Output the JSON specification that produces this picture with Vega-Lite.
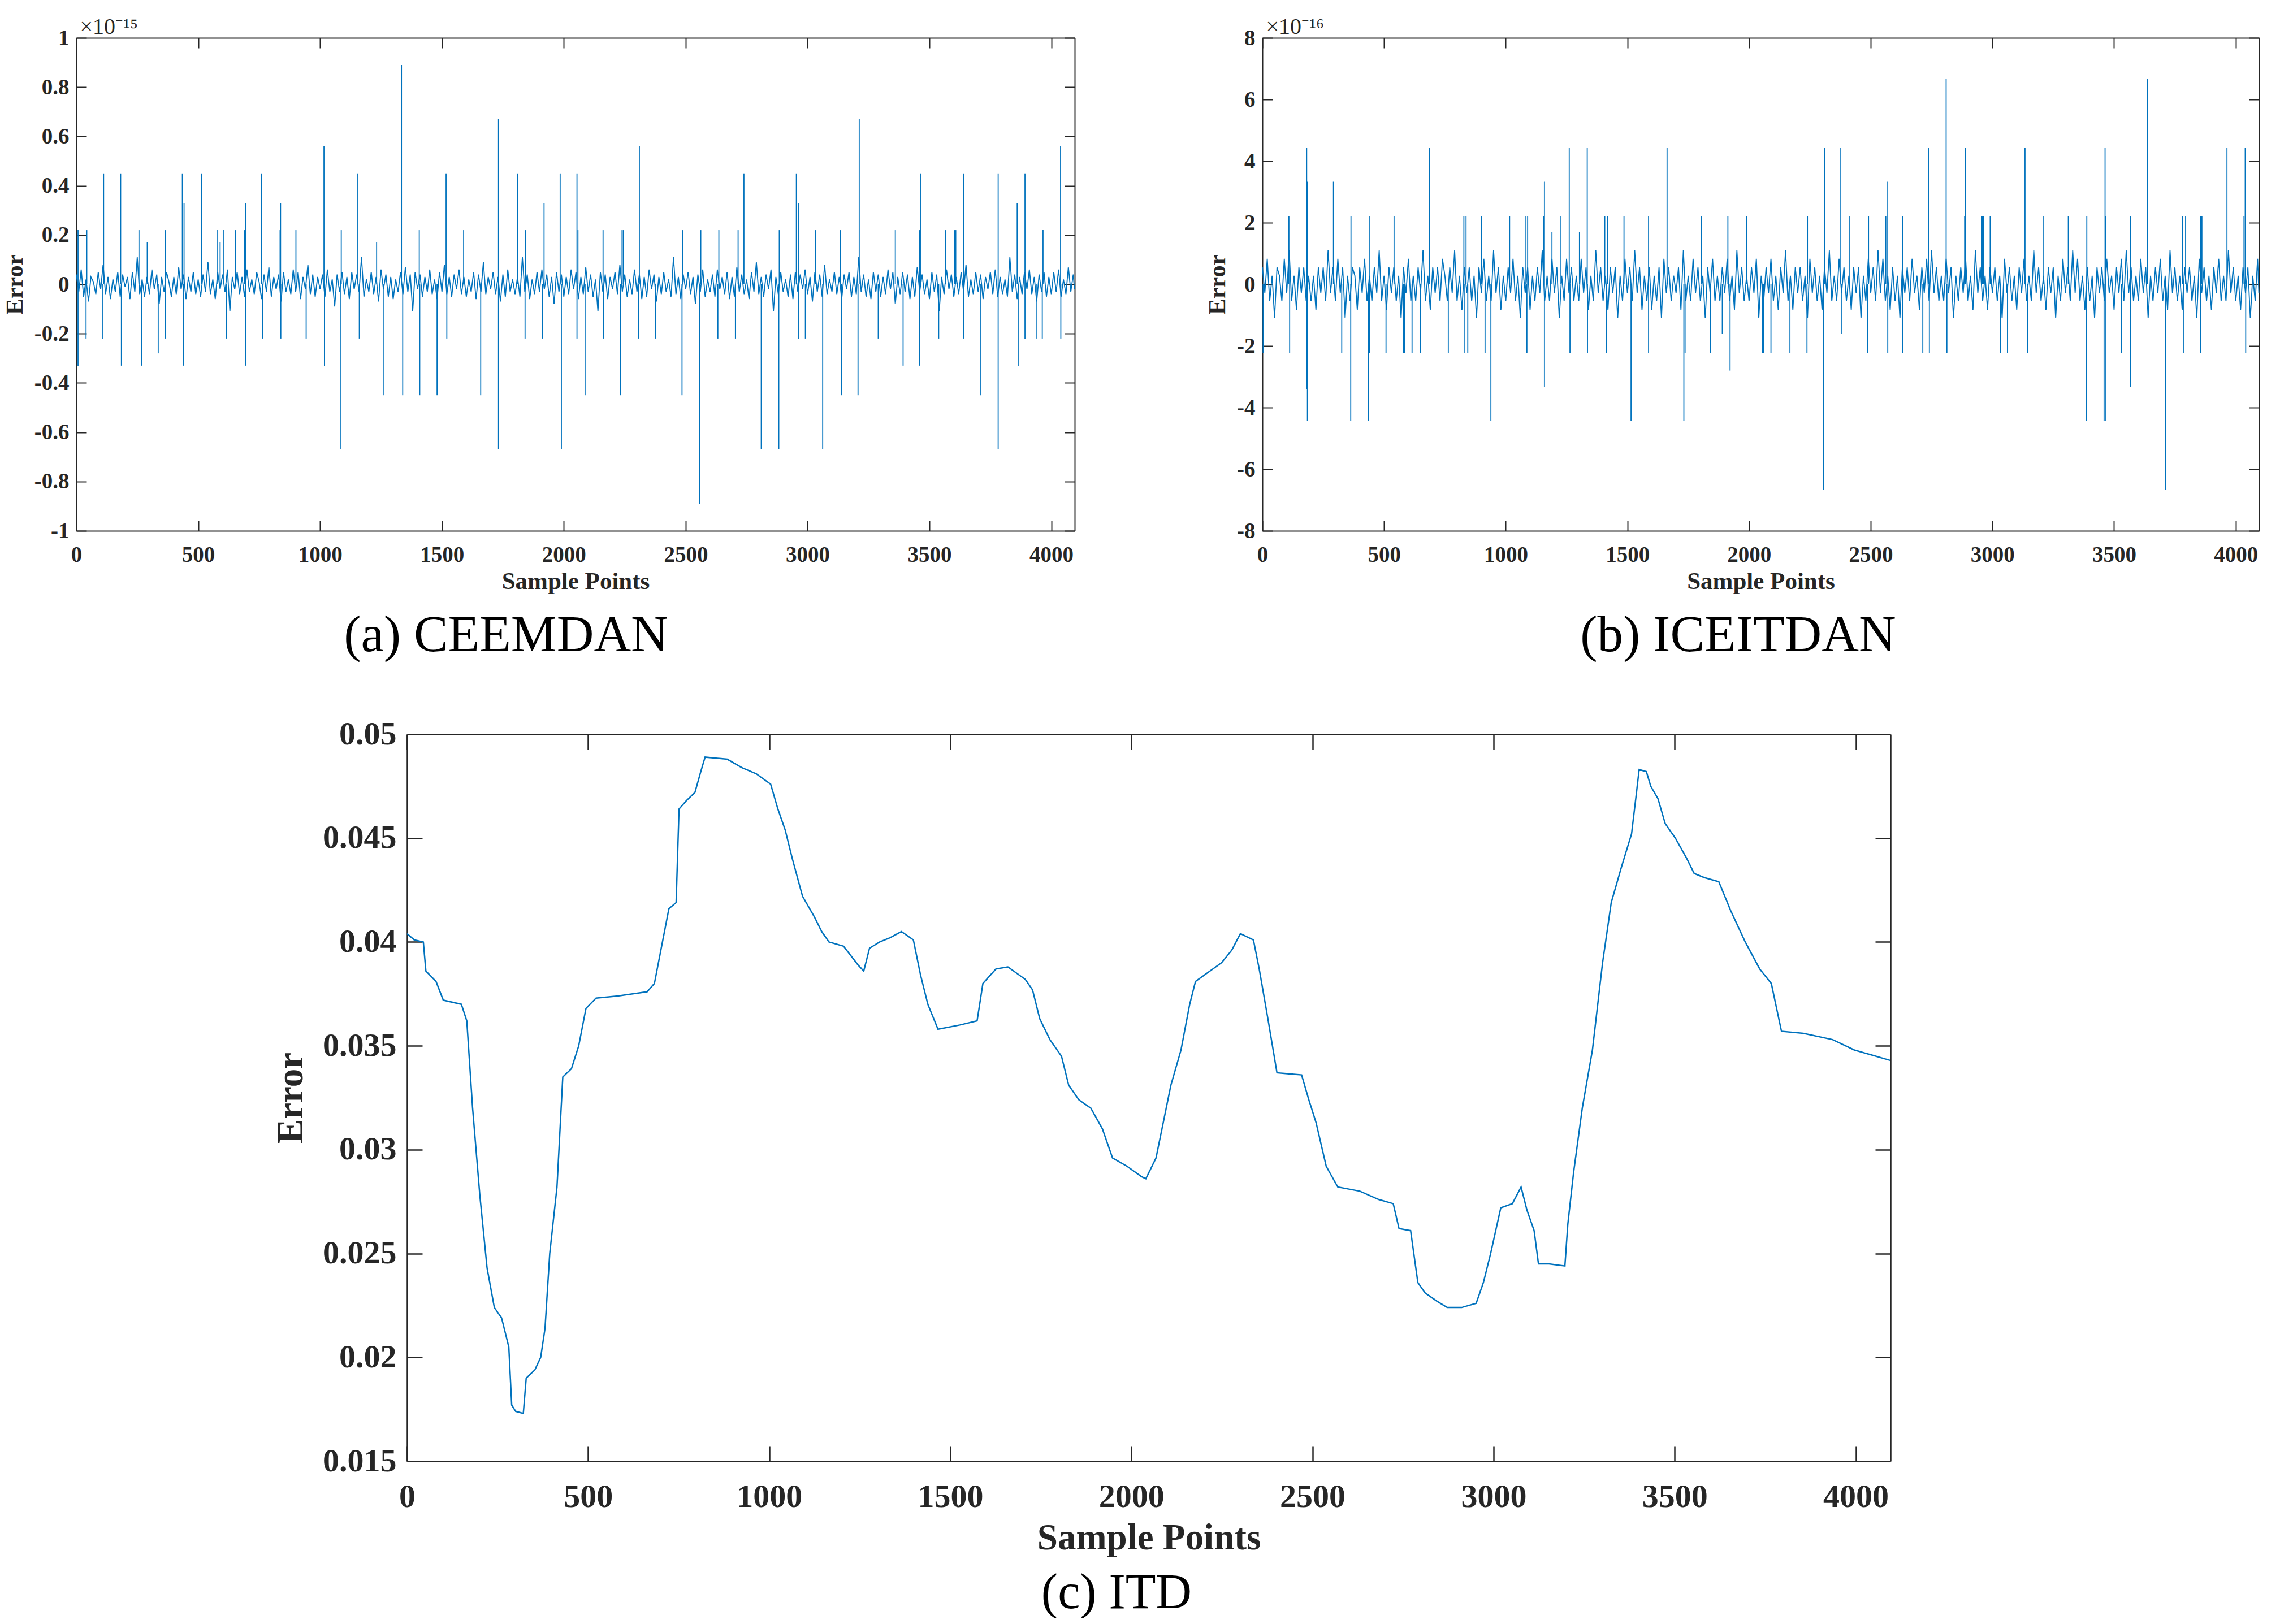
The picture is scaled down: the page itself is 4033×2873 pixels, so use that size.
{
"$schema": "https://vega.github.io/schema/vega-lite/v6.json",
"padding": {"left": 5, "top": 27, "right": 0, "bottom": 0},
"background": "white",
"config": {
  "view": {"stroke": null},
  "font": "Liberation Serif",
  "axis": {"grid": false, "domainColor": "#262626", "tickColor": "#262626", "labelColor": "#262626", "titleColor": "#262626", "labelFont": "Liberation Serif", "titleFont": "Liberation Serif", "labelFontWeight": "bold", "titleFontWeight": "bold", "labelFlush": false, "labelOverlap": false},
  "title": {"font": "Liberation Serif", "fontWeight": "normal", "color": "#000000"}
},
"datasets": {
  "a_noise": [
{"s":0,"e":0.04},{"s":10,"e":-0.03},{"s":20,"e":0.06},{"s":30,"e":-0.05},{"s":40,"e":0.02},{"s":50,"e":-0.07},{"s":60,"e":0.03},{"s":70,"e":0.01},{"s":80,"e":-0.04},{"s":90,"e":0.05},
{"s":100,"e":-0.02},{"s":110,"e":0.08},{"s":120,"e":-0.04},{"s":130,"e":0.03},{"s":140,"e":-0.06},{"s":150,"e":0.02},{"s":160,"e":-0.03},{"s":170,"e":0.05},{"s":180,"e":-0.05},{"s":190,"e":0.04},
{"s":200,"e":-0.01},{"s":210,"e":0.03},{"s":220,"e":-0.06},{"s":230,"e":0.05},{"s":240,"e":-0.03},{"s":250,"e":0.11},{"s":260,"e":-0.04},{"s":270,"e":0.02},{"s":280,"e":-0.05},{"s":290,"e":0.03},
{"s":300,"e":-0.04},{"s":310,"e":0.06},{"s":320,"e":-0.02},{"s":330,"e":0.04},{"s":340,"e":-0.08},{"s":350,"e":0.03},{"s":360,"e":-0.03},{"s":370,"e":0.05},{"s":380,"e":0.01},{"s":390,"e":-0.05},
{"s":400,"e":0.03},{"s":410,"e":-0.04},{"s":420,"e":0.07},{"s":430,"e":-0.02},{"s":440,"e":0.04},{"s":450,"e":-0.06},{"s":460,"e":0.03},{"s":470,"e":-0.03},{"s":480,"e":0.05},{"s":490,"e":-0.04},
{"s":500,"e":0.02},{"s":510,"e":-0.05},{"s":520,"e":0.04},{"s":530,"e":-0.03},{"s":540,"e":0.09},{"s":550,"e":-0.04},{"s":560,"e":0.02},{"s":570,"e":-0.06},{"s":580,"e":0.05},{"s":590,"e":-0.02},
{"s":600,"e":0.04},{"s":610,"e":-0.03},{"s":620,"e":0.06},{"s":630,"e":-0.11},{"s":640,"e":0.03},{"s":650,"e":-0.02},{"s":660,"e":0.05},{"s":670,"e":-0.04},{"s":680,"e":0.03},{"s":690,"e":-0.05},
{"s":700,"e":0.06},{"s":710,"e":-0.03},{"s":720,"e":0.02},{"s":730,"e":-0.04},{"s":740,"e":0.05},{"s":750,"e":0.01},{"s":760,"e":-0.06},{"s":770,"e":0.04},{"s":780,"e":-0.03},{"s":790,"e":0.07},
{"s":800,"e":-0.05},{"s":810,"e":0.03},{"s":820,"e":-0.02},{"s":830,"e":0.04},{"s":840,"e":-0.07},{"s":850,"e":0.05},{"s":860,"e":-0.03},{"s":870,"e":0.02},{"s":880,"e":-0.04},{"s":890,"e":0.06},
{"s":900,"e":-0.03},{"s":910,"e":0.05},{"s":920,"e":-0.06},{"s":930,"e":0.03},{"s":940,"e":-0.02},{"s":950,"e":0.08},{"s":960,"e":-0.04},{"s":970,"e":0.04},{"s":980,"e":-0.05},{"s":990,"e":0.03},
{"s":1000,"e":-0.02},{"s":1010,"e":0.04},{"s":1020,"e":-0.05},{"s":1030,"e":0.06},{"s":1040,"e":-0.03},{"s":1050,"e":0.02},{"s":1060,"e":-0.09},{"s":1070,"e":0.04},{"s":1080,"e":-0.03},{"s":1090,"e":0.05},
{"s":1100,"e":-0.04},{"s":1110,"e":0.03},{"s":1120,"e":-0.06},{"s":1130,"e":0.05},{"s":1140,"e":-0.02},{"s":1150,"e":0.04},{"s":1160,"e":-0.03},{"s":1170,"e":0.11},{"s":1180,"e":-0.05},{"s":1190,"e":0.02},
{"s":1200,"e":-0.03},{"s":1210,"e":0.05},{"s":1220,"e":-0.04},{"s":1230,"e":0.03},{"s":1240,"e":-0.07},{"s":1250,"e":0.06},{"s":1260,"e":-0.02},{"s":1270,"e":0.04},{"s":1280,"e":-0.05},{"s":1290,"e":0.03},
{"s":1300,"e":-0.06},{"s":1310,"e":0.02},{"s":1320,"e":-0.03},{"s":1330,"e":0.05},{"s":1340,"e":-0.04},{"s":1350,"e":0.07},{"s":1360,"e":-0.03},{"s":1370,"e":0.04},{"s":1380,"e":-0.11},{"s":1390,"e":0.05},
{"s":1400,"e":-0.02},{"s":1410,"e":0.04},{"s":1420,"e":-0.05},{"s":1430,"e":0.03},{"s":1440,"e":-0.03},{"s":1450,"e":0.06},{"s":1460,"e":-0.04},{"s":1470,"e":0.02},{"s":1480,"e":-0.06},{"s":1490,"e":0.05},
{"s":1500,"e":-0.03},{"s":1510,"e":0.08},{"s":1520,"e":-0.04},{"s":1530,"e":0.03},{"s":1540,"e":-0.05},{"s":1550,"e":0.04},{"s":1560,"e":-0.02},{"s":1570,"e":0.06},{"s":1580,"e":-0.04},{"s":1590,"e":0.03},
{"s":1600,"e":-0.05},{"s":1610,"e":0.02},{"s":1620,"e":-0.03},{"s":1630,"e":0.05},{"s":1640,"e":-0.06},{"s":1650,"e":0.04},{"s":1660,"e":-0.03},{"s":1670,"e":0.09},{"s":1680,"e":-0.04},{"s":1690,"e":0.03},
{"s":1700,"e":-0.02},{"s":1710,"e":0.05},{"s":1720,"e":-0.04},{"s":1730,"e":0.03},{"s":1740,"e":-0.07},{"s":1750,"e":0.04},{"s":1760,"e":-0.05},{"s":1770,"e":0.06},{"s":1780,"e":-0.03},{"s":1790,"e":0.02},
{"s":1800,"e":-0.04},{"s":1810,"e":0.03},{"s":1820,"e":-0.05},{"s":1830,"e":0.11},{"s":1840,"e":-0.03},{"s":1850,"e":0.04},{"s":1860,"e":-0.06},{"s":1870,"e":0.02},{"s":1880,"e":-0.04},{"s":1890,"e":0.05},
{"s":1900,"e":-0.03},{"s":1910,"e":0.06},{"s":1920,"e":-0.02},{"s":1930,"e":0.04},{"s":1940,"e":-0.05},{"s":1950,"e":0.03},{"s":1960,"e":-0.08},{"s":1970,"e":0.05},{"s":1980,"e":-0.03},{"s":1990,"e":0.04},
{"s":2000,"e":-0.05},{"s":2010,"e":0.03},{"s":2020,"e":-0.04},{"s":2030,"e":0.06},{"s":2040,"e":-0.02},{"s":2050,"e":0.05},{"s":2060,"e":-0.06},{"s":2070,"e":0.03},{"s":2080,"e":-0.04},{"s":2090,"e":0.07},
{"s":2100,"e":-0.03},{"s":2110,"e":0.04},{"s":2120,"e":-0.05},{"s":2130,"e":0.02},{"s":2140,"e":-0.11},{"s":2150,"e":0.05},{"s":2160,"e":-0.03},{"s":2170,"e":0.04},{"s":2180,"e":-0.06},{"s":2190,"e":0.03},
{"s":2200,"e":-0.02},{"s":2210,"e":0.05},{"s":2220,"e":-0.04},{"s":2230,"e":0.08},{"s":2240,"e":-0.03},{"s":2250,"e":0.04},{"s":2260,"e":-0.05},{"s":2270,"e":0.02},{"s":2280,"e":-0.04},{"s":2290,"e":0.06},
{"s":2300,"e":-0.03},{"s":2310,"e":0.04},{"s":2320,"e":-0.06},{"s":2330,"e":0.03},{"s":2340,"e":-0.05},{"s":2350,"e":0.06},{"s":2360,"e":-0.02},{"s":2370,"e":0.04},{"s":2380,"e":-0.07},{"s":2390,"e":0.03},
{"s":2400,"e":-0.04},{"s":2410,"e":0.05},{"s":2420,"e":-0.03},{"s":2430,"e":0.02},{"s":2440,"e":-0.05},{"s":2450,"e":0.11},{"s":2460,"e":-0.04},{"s":2470,"e":0.03},{"s":2480,"e":-0.06},{"s":2490,"e":0.04},
{"s":2500,"e":-0.02},{"s":2510,"e":0.05},{"s":2520,"e":-0.04},{"s":2530,"e":0.03},{"s":2540,"e":-0.08},{"s":2550,"e":0.04},{"s":2560,"e":-0.03},{"s":2570,"e":0.06},{"s":2580,"e":-0.05},{"s":2590,"e":0.02},
{"s":2600,"e":-0.03},{"s":2610,"e":0.04},{"s":2620,"e":-0.05},{"s":2630,"e":0.06},{"s":2640,"e":-0.02},{"s":2650,"e":0.03},{"s":2660,"e":-0.04},{"s":2670,"e":0.05},{"s":2680,"e":-0.06},{"s":2690,"e":0.03},
{"s":2700,"e":-0.05},{"s":2710,"e":0.07},{"s":2720,"e":-0.03},{"s":2730,"e":0.04},{"s":2740,"e":-0.04},{"s":2750,"e":0.02},{"s":2760,"e":-0.06},{"s":2770,"e":0.05},{"s":2780,"e":-0.03},{"s":2790,"e":0.09},
{"s":2800,"e":-0.04},{"s":2810,"e":0.03},{"s":2820,"e":-0.05},{"s":2830,"e":0.04},{"s":2840,"e":-0.02},{"s":2850,"e":0.06},{"s":2860,"e":-0.11},{"s":2870,"e":0.03},{"s":2880,"e":-0.04},{"s":2890,"e":0.05},
{"s":2900,"e":-0.03},{"s":2910,"e":0.02},{"s":2920,"e":-0.05},{"s":2930,"e":0.04},{"s":2940,"e":-0.06},{"s":2950,"e":0.05},{"s":2960,"e":-0.03},{"s":2970,"e":0.04},{"s":2980,"e":-0.02},{"s":2990,"e":0.06},
{"s":3000,"e":-0.04},{"s":3010,"e":0.03},{"s":3020,"e":-0.07},{"s":3030,"e":0.05},{"s":3040,"e":-0.03},{"s":3050,"e":0.04},{"s":3060,"e":-0.05},{"s":3070,"e":0.08},{"s":3080,"e":-0.04},{"s":3090,"e":0.02},
{"s":3100,"e":-0.03},{"s":3110,"e":0.05},{"s":3120,"e":-0.04},{"s":3130,"e":0.03},{"s":3140,"e":-0.06},{"s":3150,"e":0.04},{"s":3160,"e":-0.02},{"s":3170,"e":0.05},{"s":3180,"e":-0.05},{"s":3190,"e":0.03},
{"s":3200,"e":-0.04},{"s":3210,"e":0.11},{"s":3220,"e":-0.03},{"s":3230,"e":0.04},{"s":3240,"e":-0.05},{"s":3250,"e":0.02},{"s":3260,"e":-0.06},{"s":3270,"e":0.05},{"s":3280,"e":-0.03},{"s":3290,"e":0.04},
{"s":3300,"e":-0.05},{"s":3310,"e":0.03},{"s":3320,"e":-0.04},{"s":3330,"e":0.06},{"s":3340,"e":-0.02},{"s":3350,"e":0.05},{"s":3360,"e":-0.08},{"s":3370,"e":0.03},{"s":3380,"e":-0.04},{"s":3390,"e":0.05},
{"s":3400,"e":-0.03},{"s":3410,"e":0.04},{"s":3420,"e":-0.06},{"s":3430,"e":0.03},{"s":3440,"e":-0.05},{"s":3450,"e":0.07},{"s":3460,"e":-0.03},{"s":3470,"e":0.04},{"s":3480,"e":-0.04},{"s":3490,"e":0.02},
{"s":3500,"e":-0.06},{"s":3510,"e":0.05},{"s":3520,"e":-0.03},{"s":3530,"e":0.04},{"s":3540,"e":-0.11},{"s":3550,"e":0.03},{"s":3560,"e":-0.04},{"s":3570,"e":0.06},{"s":3580,"e":-0.02},{"s":3590,"e":0.04},
{"s":3600,"e":-0.05},{"s":3610,"e":0.03},{"s":3620,"e":-0.04},{"s":3630,"e":0.05},{"s":3640,"e":-0.03},{"s":3650,"e":0.08},{"s":3660,"e":-0.05},{"s":3670,"e":0.02},{"s":3680,"e":-0.04},{"s":3690,"e":0.05},
{"s":3700,"e":-0.03},{"s":3710,"e":0.04},{"s":3720,"e":-0.06},{"s":3730,"e":0.03},{"s":3740,"e":-0.02},{"s":3750,"e":0.05},{"s":3760,"e":-0.04},{"s":3770,"e":0.06},{"s":3780,"e":-0.05},{"s":3790,"e":0.03},
{"s":3800,"e":-0.04},{"s":3810,"e":0.02},{"s":3820,"e":-0.05},{"s":3830,"e":0.11},{"s":3840,"e":-0.03},{"s":3850,"e":0.04},{"s":3860,"e":-0.06},{"s":3870,"e":0.03},{"s":3880,"e":-0.04},{"s":3890,"e":0.05},
{"s":3900,"e":-0.02},{"s":3910,"e":0.06},{"s":3920,"e":-0.04},{"s":3930,"e":0.03},{"s":3940,"e":-0.07},{"s":3950,"e":0.04},{"s":3960,"e":-0.03},{"s":3970,"e":0.05},{"s":3980,"e":-0.05},{"s":3990,"e":0.03},
{"s":4000,"e":-0.04},{"s":4010,"e":0.05},{"s":4020,"e":-0.03},{"s":4030,"e":0.06},{"s":4040,"e":-0.05},{"s":4050,"e":0.02},{"s":4060,"e":-0.04},{"s":4070,"e":0.07},{"s":4080,"e":-0.03},{"s":4090,"e":0.04},{"s":4095,"e":-0.02}
  ],
  "a_spikes": [
{"s":112,"e":0.45},{"s":182,"e":0.45},{"s":435,"e":0.45},{"s":442,"e":0.33},{"s":514,"e":0.45},{"s":694,"e":0.33},{"s":760,"e":0.45},{"s":838,"e":0.33},{"s":1016,"e":0.56},{"s":1155,"e":0.45},{"s":1334,"e":0.89},{"s":1517,"e":0.45},{"s":1732,"e":0.67},{"s":1810,"e":0.45},{"s":1919,"e":0.33},{"s":1985,"e":0.45},
{"s":2054,"e":0.45},{"s":2310,"e":0.56},{"s":2739,"e":0.45},{"s":2954,"e":0.45},{"s":2964,"e":0.33},{"s":3212,"e":0.67},{"s":3465,"e":0.45},{"s":3640,"e":0.45},{"s":3782,"e":0.45},{"s":3860,"e":0.33},{"s":3892,"e":0.45},{"s":4038,"e":0.56},
{"s":7,"e":0.22},{"s":43,"e":0.22},{"s":257,"e":0.22},{"s":365,"e":0.22},{"s":580,"e":0.22},{"s":603,"e":0.22},{"s":653,"e":0.22},{"s":690,"e":0.22},{"s":836,"e":0.22},{"s":901,"e":0.22},{"s":1087,"e":0.22},{"s":1407,"e":0.22},{"s":1589,"e":0.22},{"s":1843,"e":0.22},{"s":291,"e":0.17},{"s":590,"e":0.17},{"s":1232,"e":0.17},
{"s":2058,"e":0.22},{"s":2161,"e":0.22},{"s":2239,"e":0.22},{"s":2244,"e":0.22},{"s":2487,"e":0.22},{"s":2562,"e":0.22},{"s":2636,"e":0.22},{"s":2715,"e":0.22},{"s":2884,"e":0.22},{"s":3032,"e":0.22},{"s":3134,"e":0.22},{"s":3360,"e":0.22},{"s":3460,"e":0.22},{"s":3566,"e":0.22},{"s":3603,"e":0.22},{"s":3608,"e":0.22},{"s":3966,"e":0.22},
{"s":7,"e":-0.33},{"s":40,"e":-0.22},{"s":109,"e":-0.22},{"s":185,"e":-0.33},{"s":268,"e":-0.33},{"s":336,"e":-0.28},{"s":365,"e":-0.22},{"s":439,"e":-0.33},{"s":616,"e":-0.22},{"s":694,"e":-0.33},{"s":765,"e":-0.22},{"s":839,"e":-0.22},{"s":943,"e":-0.22},{"s":1018,"e":-0.33},{"s":1083,"e":-0.67},{"s":1161,"e":-0.22},{"s":1262,"e":-0.45},{"s":1339,"e":-0.45},{"s":1409,"e":-0.45},{"s":1480,"e":-0.45},{"s":1520,"e":-0.22},{"s":1659,"e":-0.45},{"s":1732,"e":-0.67},{"s":1841,"e":-0.22},{"s":1913,"e":-0.22},{"s":1990,"e":-0.67},
{"s":2054,"e":-0.22},{"s":2090,"e":-0.45},{"s":2162,"e":-0.22},{"s":2232,"e":-0.45},{"s":2307,"e":-0.22},{"s":2377,"e":-0.22},{"s":2485,"e":-0.45},{"s":2558,"e":-0.89},{"s":2632,"e":-0.22},{"s":2704,"e":-0.22},{"s":2810,"e":-0.67},{"s":2882,"e":-0.67},{"s":2962,"e":-0.22},{"s":2991,"e":-0.22},{"s":3062,"e":-0.67},{"s":3140,"e":-0.45},{"s":3207,"e":-0.45},{"s":3290,"e":-0.22},{"s":3392,"e":-0.33},{"s":3460,"e":-0.33},{"s":3538,"e":-0.22},{"s":3640,"e":-0.22},{"s":3711,"e":-0.45},{"s":3782,"e":-0.67},{"s":3864,"e":-0.33},{"s":3892,"e":-0.22},{"s":3938,"e":-0.22},{"s":3963,"e":-0.22},{"s":4039,"e":-0.22}
  ],
  "b_noise": [
{"s":0,"e":0.55},{"s":10,"e":-0.28},{"s":20,"e":0.83},{"s":30,"e":-0.55},{"s":40,"e":0.28},{"s":50,"e":-1.1},{"s":60,"e":0.55},{"s":70,"e":0.28},{"s":80,"e":-0.55},{"s":90,"e":0.83},
{"s":100,"e":-0.28},{"s":110,"e":1.1},{"s":120,"e":-0.55},{"s":130,"e":0.28},{"s":140,"e":-0.83},{"s":150,"e":0.55},{"s":160,"e":-0.28},{"s":170,"e":0.55},{"s":180,"e":-0.55},{"s":190,"e":0.28},
{"s":200,"e":-0.55},{"s":210,"e":0.28},{"s":220,"e":-0.83},{"s":230,"e":0.55},{"s":240,"e":-0.28},{"s":250,"e":0.55},{"s":260,"e":-0.55},{"s":270,"e":1.1},{"s":280,"e":-0.28},{"s":290,"e":0.55},
{"s":300,"e":-0.55},{"s":310,"e":0.83},{"s":320,"e":-0.28},{"s":330,"e":0.55},{"s":340,"e":-1.1},{"s":350,"e":0.28},{"s":360,"e":-0.55},{"s":370,"e":0.55},{"s":380,"e":0.28},{"s":390,"e":-0.83},
{"s":400,"e":0.55},{"s":410,"e":-0.28},{"s":420,"e":0.83},{"s":430,"e":-0.55},{"s":440,"e":0.28},{"s":450,"e":-0.55},{"s":460,"e":0.55},{"s":470,"e":-0.28},{"s":480,"e":1.1},{"s":490,"e":-0.55},
{"s":500,"e":0.28},{"s":510,"e":-0.83},{"s":520,"e":0.55},{"s":530,"e":-0.28},{"s":540,"e":0.55},{"s":550,"e":-0.55},{"s":560,"e":0.28},{"s":570,"e":-1.1},{"s":580,"e":0.55},{"s":590,"e":-0.28},
{"s":600,"e":0.83},{"s":610,"e":-0.55},{"s":620,"e":0.28},{"s":630,"e":-0.55},{"s":640,"e":0.55},{"s":650,"e":-0.28},{"s":660,"e":1.1},{"s":670,"e":-0.55},{"s":680,"e":0.28},{"s":690,"e":-0.83},
{"s":700,"e":0.55},{"s":710,"e":-0.28},{"s":720,"e":0.55},{"s":730,"e":-0.55},{"s":740,"e":0.83},{"s":750,"e":0.28},{"s":760,"e":-0.55},{"s":770,"e":0.55},{"s":780,"e":-0.28},{"s":790,"e":1.1},
{"s":800,"e":-0.55},{"s":810,"e":0.28},{"s":820,"e":-0.83},{"s":830,"e":0.55},{"s":840,"e":-0.28},{"s":850,"e":0.55},{"s":860,"e":-0.55},{"s":870,"e":0.28},{"s":880,"e":-1.1},{"s":890,"e":0.55},
{"s":900,"e":-0.28},{"s":910,"e":0.83},{"s":920,"e":-0.55},{"s":930,"e":0.28},{"s":940,"e":-0.55},{"s":950,"e":1.1},{"s":960,"e":-0.28},{"s":970,"e":0.55},{"s":980,"e":-0.83},{"s":990,"e":0.28},
{"s":1000,"e":-0.55},{"s":1010,"e":0.55},{"s":1020,"e":-0.28},{"s":1030,"e":0.83},{"s":1040,"e":-0.55},{"s":1050,"e":0.28},{"s":1060,"e":-1.1},{"s":1070,"e":0.55},{"s":1080,"e":-0.28},{"s":1090,"e":0.55},
{"s":1100,"e":-0.83},{"s":1110,"e":0.28},{"s":1120,"e":-0.55},{"s":1130,"e":0.55},{"s":1140,"e":-0.28},{"s":1150,"e":1.1},{"s":1160,"e":-0.55},{"s":1170,"e":0.28},{"s":1180,"e":-0.55},{"s":1190,"e":0.83},
{"s":1200,"e":-0.28},{"s":1210,"e":0.55},{"s":1220,"e":-1.1},{"s":1230,"e":0.28},{"s":1240,"e":-0.55},{"s":1250,"e":0.83},{"s":1260,"e":-0.28},{"s":1270,"e":0.55},{"s":1280,"e":-0.55},{"s":1290,"e":0.28},
{"s":1300,"e":-0.55},{"s":1310,"e":0.83},{"s":1320,"e":-0.28},{"s":1330,"e":0.55},{"s":1340,"e":-0.83},{"s":1350,"e":0.28},{"s":1360,"e":-0.55},{"s":1370,"e":1.1},{"s":1380,"e":-0.28},{"s":1390,"e":0.55},
{"s":1400,"e":-0.55},{"s":1410,"e":0.28},{"s":1420,"e":-0.83},{"s":1430,"e":0.55},{"s":1440,"e":-0.28},{"s":1450,"e":0.55},{"s":1460,"e":-1.1},{"s":1470,"e":0.28},{"s":1480,"e":-0.55},{"s":1490,"e":0.83},
{"s":1500,"e":-0.28},{"s":1510,"e":0.55},{"s":1520,"e":-0.55},{"s":1530,"e":1.1},{"s":1540,"e":-0.28},{"s":1550,"e":0.55},{"s":1560,"e":-0.83},{"s":1570,"e":0.28},{"s":1580,"e":-0.55},{"s":1590,"e":0.55},
{"s":1600,"e":-0.83},{"s":1610,"e":0.28},{"s":1620,"e":-0.55},{"s":1630,"e":0.55},{"s":1640,"e":-1.1},{"s":1650,"e":0.83},{"s":1660,"e":-0.28},{"s":1670,"e":0.55},{"s":1680,"e":-0.55},{"s":1690,"e":0.28},
{"s":1700,"e":-0.28},{"s":1710,"e":0.55},{"s":1720,"e":-0.83},{"s":1730,"e":1.1},{"s":1740,"e":-0.55},{"s":1750,"e":0.28},{"s":1760,"e":-0.55},{"s":1770,"e":0.83},{"s":1780,"e":-0.28},{"s":1790,"e":0.55},
{"s":1800,"e":-0.55},{"s":1810,"e":0.28},{"s":1820,"e":-1.1},{"s":1830,"e":0.55},{"s":1840,"e":-0.28},{"s":1850,"e":0.83},{"s":1860,"e":-0.55},{"s":1870,"e":0.28},{"s":1880,"e":-0.55},{"s":1890,"e":0.55},
{"s":1900,"e":-0.28},{"s":1910,"e":0.83},{"s":1920,"e":-0.55},{"s":1930,"e":0.28},{"s":1940,"e":-0.83},{"s":1950,"e":1.1},{"s":1960,"e":-0.28},{"s":1970,"e":0.55},{"s":1980,"e":-0.55},{"s":1990,"e":0.28},
{"s":2000,"e":-0.55},{"s":2010,"e":0.55},{"s":2020,"e":-0.28},{"s":2030,"e":0.83},{"s":2040,"e":-1.1},{"s":2050,"e":0.28},{"s":2060,"e":-0.55},{"s":2070,"e":0.55},{"s":2080,"e":-0.28},{"s":2090,"e":0.83},
{"s":2100,"e":-0.55},{"s":2110,"e":0.28},{"s":2120,"e":-0.83},{"s":2130,"e":0.55},{"s":2140,"e":-0.28},{"s":2150,"e":1.1},{"s":2160,"e":-0.55},{"s":2170,"e":0.28},{"s":2180,"e":-0.83},{"s":2190,"e":0.55},
{"s":2200,"e":-0.28},{"s":2210,"e":0.55},{"s":2220,"e":-0.55},{"s":2230,"e":0.28},{"s":2240,"e":-1.1},{"s":2250,"e":0.83},{"s":2260,"e":-0.28},{"s":2270,"e":0.55},{"s":2280,"e":-0.55},{"s":2290,"e":0.28},
{"s":2300,"e":-0.83},{"s":2310,"e":0.55},{"s":2320,"e":-0.28},{"s":2330,"e":1.1},{"s":2340,"e":-0.55},{"s":2350,"e":0.28},{"s":2360,"e":-0.55},{"s":2370,"e":0.83},{"s":2380,"e":-0.28},{"s":2390,"e":0.55},
{"s":2400,"e":-0.55},{"s":2410,"e":0.28},{"s":2420,"e":-0.83},{"s":2430,"e":0.55},{"s":2440,"e":-0.28},{"s":2450,"e":0.55},{"s":2460,"e":-1.1},{"s":2470,"e":0.28},{"s":2480,"e":-0.55},{"s":2490,"e":0.83},
{"s":2500,"e":-0.28},{"s":2510,"e":0.55},{"s":2520,"e":-0.55},{"s":2530,"e":1.1},{"s":2540,"e":-0.28},{"s":2550,"e":0.83},{"s":2560,"e":-0.55},{"s":2570,"e":0.28},{"s":2580,"e":-0.83},{"s":2590,"e":0.55},
{"s":2600,"e":-0.55},{"s":2610,"e":0.28},{"s":2620,"e":-1.1},{"s":2630,"e":0.55},{"s":2640,"e":-0.28},{"s":2650,"e":0.55},{"s":2660,"e":-0.55},{"s":2670,"e":0.83},{"s":2680,"e":-0.28},{"s":2690,"e":0.28},
{"s":2700,"e":-0.83},{"s":2710,"e":0.55},{"s":2720,"e":-0.28},{"s":2730,"e":0.83},{"s":2740,"e":-0.55},{"s":2750,"e":1.1},{"s":2760,"e":-0.28},{"s":2770,"e":0.55},{"s":2780,"e":-0.55},{"s":2790,"e":0.28},
{"s":2800,"e":-0.55},{"s":2810,"e":0.83},{"s":2820,"e":-0.28},{"s":2830,"e":0.55},{"s":2840,"e":-1.1},{"s":2850,"e":0.28},{"s":2860,"e":-0.55},{"s":2870,"e":0.55},{"s":2880,"e":-0.28},{"s":2890,"e":0.83},
{"s":2900,"e":-0.55},{"s":2910,"e":0.28},{"s":2920,"e":-0.83},{"s":2930,"e":1.1},{"s":2940,"e":-0.28},{"s":2950,"e":0.55},{"s":2960,"e":-0.55},{"s":2970,"e":0.28},{"s":2980,"e":-0.83},{"s":2990,"e":0.55},
{"s":3000,"e":-0.28},{"s":3010,"e":0.55},{"s":3020,"e":-0.55},{"s":3030,"e":0.28},{"s":3040,"e":-1.1},{"s":3050,"e":0.83},{"s":3060,"e":-0.28},{"s":3070,"e":0.55},{"s":3080,"e":-0.55},{"s":3090,"e":0.28},
{"s":3100,"e":-0.83},{"s":3110,"e":0.55},{"s":3120,"e":-0.28},{"s":3130,"e":0.83},{"s":3140,"e":-0.55},{"s":3150,"e":0.28},{"s":3160,"e":-0.55},{"s":3170,"e":1.1},{"s":3180,"e":-0.28},{"s":3190,"e":0.55},
{"s":3200,"e":-0.55},{"s":3210,"e":0.28},{"s":3220,"e":-0.83},{"s":3230,"e":0.55},{"s":3240,"e":-0.28},{"s":3250,"e":0.55},{"s":3260,"e":-1.1},{"s":3270,"e":0.28},{"s":3280,"e":-0.55},{"s":3290,"e":0.83},
{"s":3300,"e":-0.28},{"s":3310,"e":0.55},{"s":3320,"e":-0.55},{"s":3330,"e":1.1},{"s":3340,"e":-0.28},{"s":3350,"e":0.83},{"s":3360,"e":-0.55},{"s":3370,"e":0.28},{"s":3380,"e":-0.83},{"s":3390,"e":0.55},
{"s":3400,"e":-0.55},{"s":3410,"e":0.28},{"s":3420,"e":-1.1},{"s":3430,"e":0.55},{"s":3440,"e":-0.28},{"s":3450,"e":0.55},{"s":3460,"e":-0.55},{"s":3470,"e":0.83},{"s":3480,"e":-0.28},{"s":3490,"e":0.28},
{"s":3500,"e":-0.83},{"s":3510,"e":0.55},{"s":3520,"e":-0.28},{"s":3530,"e":0.83},{"s":3540,"e":-0.55},{"s":3550,"e":1.1},{"s":3560,"e":-0.28},{"s":3570,"e":0.55},{"s":3580,"e":-0.55},{"s":3590,"e":0.28},
{"s":3600,"e":-0.55},{"s":3610,"e":0.83},{"s":3620,"e":-0.28},{"s":3630,"e":0.55},{"s":3640,"e":-1.1},{"s":3650,"e":0.28},{"s":3660,"e":-0.55},{"s":3670,"e":0.55},{"s":3680,"e":-0.28},{"s":3690,"e":0.83},
{"s":3700,"e":-0.55},{"s":3710,"e":0.28},{"s":3720,"e":-0.83},{"s":3730,"e":1.1},{"s":3740,"e":-0.28},{"s":3750,"e":0.55},{"s":3760,"e":-0.55},{"s":3770,"e":0.28},{"s":3780,"e":-0.83},{"s":3790,"e":0.55},
{"s":3800,"e":-0.28},{"s":3810,"e":0.55},{"s":3820,"e":-0.55},{"s":3830,"e":0.28},{"s":3840,"e":-1.1},{"s":3850,"e":0.83},{"s":3860,"e":-0.28},{"s":3870,"e":0.55},{"s":3880,"e":-0.55},{"s":3890,"e":0.28},
{"s":3900,"e":-0.83},{"s":3910,"e":0.55},{"s":3920,"e":-0.28},{"s":3930,"e":0.83},{"s":3940,"e":-0.55},{"s":3950,"e":0.28},{"s":3960,"e":-0.55},{"s":3970,"e":1.1},{"s":3980,"e":-0.28},{"s":3990,"e":0.55},
{"s":4000,"e":-0.55},{"s":4010,"e":0.28},{"s":4020,"e":-0.83},{"s":4030,"e":0.55},{"s":4040,"e":-0.28},{"s":4050,"e":0.55},{"s":4060,"e":-1.1},{"s":4070,"e":0.28},{"s":4080,"e":-0.55},{"s":4090,"e":0.83},{"s":4095,"e":-0.28}
  ],
  "b_spikes": [
{"s":182,"e":4.44},{"s":185,"e":3.33},{"s":292,"e":3.33},{"s":686,"e":4.44},{"s":1159,"e":3.33},{"s":1261,"e":4.44},{"s":1335,"e":4.44},{"s":1663,"e":4.44},{"s":2310,"e":4.44},{"s":2377,"e":4.44},{"s":2567,"e":3.33},{"s":2739,"e":4.44},{"s":2810,"e":6.66},{"s":2889,"e":4.44},{"s":3134,"e":4.44},{"s":3463,"e":4.44},{"s":3638,"e":6.66},{"s":3964,"e":4.44},{"s":4039,"e":4.44},
{"s":109,"e":2.22},{"s":364,"e":2.22},{"s":439,"e":2.22},{"s":541,"e":2.22},{"s":828,"e":2.22},{"s":837,"e":2.22},{"s":901,"e":2.22},{"s":1016,"e":2.22},{"s":1083,"e":2.22},{"s":1090,"e":2.22},{"s":1155,"e":2.22},{"s":1227,"e":2.22},{"s":1407,"e":2.22},{"s":1418,"e":2.22},{"s":1486,"e":2.22},{"s":1587,"e":2.22},{"s":1804,"e":2.22},{"s":1913,"e":2.22},{"s":1989,"e":2.22},{"s":1190,"e":1.7},{"s":1303,"e":1.7},
{"s":2240,"e":2.22},{"s":2414,"e":2.22},{"s":2491,"e":2.22},{"s":2562,"e":2.22},{"s":2632,"e":2.22},{"s":2886,"e":2.22},{"s":2955,"e":2.22},{"s":2959,"e":2.22},{"s":2964,"e":2.22},{"s":2991,"e":2.22},{"s":3211,"e":2.22},{"s":3312,"e":2.22},{"s":3388,"e":2.22},{"s":3466,"e":2.22},{"s":3567,"e":2.22},{"s":3782,"e":2.22},{"s":3794,"e":2.22},{"s":3856,"e":2.22},{"s":3861,"e":2.22},{"s":4034,"e":2.22},
{"s":3,"e":-2.22},{"s":112,"e":-2.22},{"s":182,"e":-3.4},{"s":185,"e":-4.44},{"s":326,"e":-2.22},{"s":363,"e":-4.44},{"s":435,"e":-4.44},{"s":440,"e":-2.22},{"s":508,"e":-2.22},{"s":580,"e":-2.22},{"s":584,"e":-2.22},{"s":615,"e":-2.22},{"s":650,"e":-2.22},{"s":764,"e":-2.22},{"s":832,"e":-2.22},{"s":844,"e":-2.22},{"s":915,"e":-2.22},{"s":939,"e":-4.44},{"s":1087,"e":-2.22},{"s":1159,"e":-3.33},{"s":1264,"e":-2.22},{"s":1336,"e":-2.22},{"s":1413,"e":-2.22},{"s":1515,"e":-4.44},{"s":1587,"e":-2.22},{"s":1732,"e":-4.44},{"s":1737,"e":-2.22},{"s":1841,"e":-2.22},{"s":1890,"e":-1.6},{"s":1922,"e":-2.8},
{"s":2055,"e":-2.22},{"s":2059,"e":-2.22},{"s":2090,"e":-2.22},{"s":2168,"e":-2.22},{"s":2238,"e":-2.22},{"s":2305,"e":-6.66},{"s":2379,"e":-1.6},{"s":2487,"e":-2.22},{"s":2570,"e":-2.22},{"s":2631,"e":-2.22},{"s":2714,"e":-2.22},{"s":2741,"e":-2.22},{"s":2813,"e":-2.22},{"s":3033,"e":-2.22},{"s":3062,"e":-2.22},{"s":3145,"e":-2.22},{"s":3386,"e":-4.44},{"s":3459,"e":-4.44},{"s":3464,"e":-4.44},{"s":3530,"e":-2.22},{"s":3567,"e":-3.33},{"s":3711,"e":-6.66},{"s":3787,"e":-2.22},{"s":3855,"e":-2.22},{"s":4041,"e":-2.22}
  ],
  "c_line": [
{"s":0,"e":0.0404},{"s":20,"e":0.0401},{"s":45,"e":0.04},{"s":52,"e":0.0386},{"s":80,"e":0.0381},{"s":100,"e":0.0372},{"s":150,"e":0.037},{"s":165,"e":0.0362},{"s":181,"e":0.032},{"s":201,"e":0.0278},{"s":221,"e":0.0243},{"s":241,"e":0.0224},{"s":261,"e":0.0219},{"s":281,"e":0.0205},{"s":289,"e":0.0177},{"s":300,"e":0.0174},{"s":321,"e":0.0173},{"s":329,"e":0.019},{"s":353,"e":0.0194},{"s":369,"e":0.02},{"s":381,"e":0.0214},{"s":394,"e":0.025},{"s":414,"e":0.0282},{"s":430,"e":0.0335},{"s":454,"e":0.0339},{"s":474,"e":0.035},{"s":494,"e":0.0368},{"s":522,"e":0.0373},{"s":582,"e":0.0374},{"s":663,"e":0.0376},{"s":683,"e":0.038},{"s":703,"e":0.0398},{"s":723,"e":0.0416},{"s":743,"e":0.0419},{"s":751,"e":0.0464},{"s":771,"e":0.0468},{"s":795,"e":0.0472},{"s":811,"e":0.0482},{"s":823,"e":0.0489},{"s":884,"e":0.0488},{"s":924,"e":0.0484},{"s":964,"e":0.0481},{"s":1004,"e":0.0476},{"s":1024,"e":0.0464},{"s":1044,"e":0.0454},{"s":1064,"e":0.044},{"s":1092,"e":0.0422},{"s":1125,"e":0.0412},{"s":1145,"e":0.0405},{"s":1165,"e":0.04},{"s":1205,"e":0.0398},{"s":1245,"e":0.0389},{"s":1261,"e":0.0386},{"s":1277,"e":0.0397},{"s":1305,"e":0.04},{"s":1333,"e":0.0402},{"s":1365,"e":0.0405},{"s":1398,"e":0.0401},{"s":1418,"e":0.0384},{"s":1438,"e":0.037},{"s":1466,"e":0.0358},{"s":1526,"e":0.036},{"s":1574,"e":0.0362},{"s":1590,"e":0.038},{"s":1626,"e":0.0387},{"s":1659,"e":0.0388},{"s":1707,"e":0.0382},{"s":1727,"e":0.0377},{"s":1747,"e":0.0363},{"s":1775,"e":0.0353},{"s":1807,"e":0.0345},{"s":1827,"e":0.0331},{"s":1855,"e":0.0324},{"s":1888,"e":0.032},{"s":1920,"e":0.031},{"s":1948,"e":0.0296},{"s":1988,"e":0.0292},{"s":2028,"e":0.0287},{"s":2040,"e":0.0286},{"s":2068,"e":0.0296},{"s":2088,"e":0.0313},{"s":2109,"e":0.0331},{"s":2137,"e":0.0348},{"s":2161,"e":0.037},{"s":2177,"e":0.0381},{"s":2209,"e":0.0385},{"s":2249,"e":0.039},{"s":2277,"e":0.0396},{"s":2301,"e":0.0404},{"s":2337,"e":0.0401},{"s":2353,"e":0.0387},{"s":2377,"e":0.0363},{"s":2402,"e":0.0337},{"s":2470,"e":0.0336},{"s":2490,"e":0.0324},{"s":2510,"e":0.0313},{"s":2538,"e":0.0292},{"s":2570,"e":0.0282},{"s":2631,"e":0.028},{"s":2683,"e":0.0276},{"s":2723,"e":0.0274},{"s":2739,"e":0.0262},{"s":2771,"e":0.0261},{"s":2791,"e":0.0236},{"s":2811,"e":0.0231},{"s":2844,"e":0.0227},{"s":2872,"e":0.0224},{"s":2912,"e":0.0224},{"s":2952,"e":0.0226},{"s":2972,"e":0.0236},{"s":2992,"e":0.025},{"s":3020,"e":0.0272},{"s":3052,"e":0.0274},{"s":3076,"e":0.0282},{"s":3092,"e":0.0271},{"s":3112,"e":0.0261},{"s":3124,"e":0.0245},{"s":3153,"e":0.0245},{"s":3197,"e":0.0244},{"s":3205,"e":0.0264},{"s":3221,"e":0.0289},{"s":3245,"e":0.032},{"s":3273,"e":0.0348},{"s":3301,"e":0.039},{"s":3325,"e":0.0419},{"s":3353,"e":0.0436},{"s":3381,"e":0.0452},{"s":3394,"e":0.0471},{"s":3402,"e":0.0483},{"s":3422,"e":0.0482},{"s":3434,"e":0.0475},{"s":3454,"e":0.0469},{"s":3474,"e":0.0457},{"s":3502,"e":0.045},{"s":3534,"e":0.044},{"s":3554,"e":0.0433},{"s":3582,"e":0.0431},{"s":3622,"e":0.0429},{"s":3655,"e":0.0415},{"s":3695,"e":0.04},{"s":3735,"e":0.0387},{"s":3767,"e":0.038},{"s":3795,"e":0.0357},{"s":3855,"e":0.0356},{"s":3936,"e":0.0353},{"s":3996,"e":0.0348},{"s":4095,"e":0.0343}
  ],
  "spacer": [{"s": 0}]
},
"spacing": 100,
"vconcat": [
 {
  "spacing": 227,
  "hconcat": [
   {
    "width": 1766, "height": 872,
    "title": {"text": "(a) CEEMDAN", "orient": "bottom", "anchor": "middle", "frame": "group", "dx": -123, "fontSize": 91, "offset": 30},
    "layer": [
     {"data": {"name": "a_noise"}, "mark": {"type": "line", "color": "#0072BD", "strokeWidth": 1.8},
      "encoding": {
       "x": {"field": "s", "type": "quantitative", "scale": {"domain": [0, 4096], "nice": false, "zero": false},
             "axis": {"orient": "bottom", "values": [0,500,1000,1500,2000,2500,3000,3500,4000], "format": "d", "tickSize": -18, "tickWidth": 2, "domainWidth": 2, "labelPadding": 41, "labelFontSize": 39, "title": "Sample Points", "titleFontSize": 43, "titlePadding": 6}},
       "y": {"field": "e", "type": "quantitative", "scale": {"domain": [-1, 1], "nice": false},
             "axis": {"orient": "left", "values": [-1,-0.8,-0.6,-0.4,-0.2,0,0.2,0.4,0.6,0.8,1], "labelExpr": "'' + datum.value", "tickSize": -18, "tickWidth": 2, "domainWidth": 2, "labelPadding": 31, "labelFontSize": 39, "title": "Error", "titleFontSize": 43, "titlePadding": 12}}
      }},
     {"data": {"name": "a_spikes"}, "mark": {"type": "rule", "color": "#0072BD", "strokeWidth": 1.8},
      "encoding": {
       "x": {"field": "s", "type": "quantitative", "axis": {"orient": "top", "values": [0,500,1000,1500,2000,2500,3000,3500,4000], "labels": false, "tickSize": -18, "tickWidth": 2, "domainWidth": 2, "title": "×10⁻¹⁵", "titleFontWeight": "normal", "titleFontSize": 40, "titleAnchor": "start", "titleAlign": "left", "titleBaseline": "alphabetic", "titleX": 6, "titleY": -8}},
       "y": {"field": "e", "type": "quantitative", "axis": {"orient": "right", "values": [-1,-0.8,-0.6,-0.4,-0.2,0,0.2,0.4,0.6,0.8,1], "labels": false, "tickSize": -18, "tickWidth": 2, "domainWidth": 2, "title": null}},
       "y2": {"datum": 0}
      }}
    ],
    "resolve": {"axis": {"x": "independent", "y": "independent"}}
   },
   {
    "width": 1763, "height": 872,
    "title": {"text": "(b) ICEITDAN", "orient": "bottom", "anchor": "middle", "frame": "group", "dx": -40, "fontSize": 91, "offset": 30},
    "layer": [
     {"data": {"name": "b_noise"}, "mark": {"type": "line", "color": "#0072BD", "strokeWidth": 1.8},
      "encoding": {
       "x": {"field": "s", "type": "quantitative", "scale": {"domain": [0, 4096], "nice": false, "zero": false},
             "axis": {"orient": "bottom", "values": [0,500,1000,1500,2000,2500,3000,3500,4000], "format": "d", "tickSize": -18, "tickWidth": 2, "domainWidth": 2, "labelPadding": 41, "labelFontSize": 39, "title": "Sample Points", "titleFontSize": 43, "titlePadding": 6}},
       "y": {"field": "e", "type": "quantitative", "scale": {"domain": [-8, 8], "nice": false},
             "axis": {"orient": "left", "values": [-8,-6,-4,-2,0,2,4,6,8], "labelExpr": "'' + datum.value", "tickSize": -18, "tickWidth": 2, "domainWidth": 2, "labelPadding": 31, "labelFontSize": 39, "title": "Error", "titleFontSize": 43, "titlePadding": 12}}
      }},
     {"data": {"name": "b_spikes"}, "mark": {"type": "rule", "color": "#0072BD", "strokeWidth": 1.8},
      "encoding": {
       "x": {"field": "s", "type": "quantitative", "axis": {"orient": "top", "values": [0,500,1000,1500,2000,2500,3000,3500,4000], "labels": false, "tickSize": -18, "tickWidth": 2, "domainWidth": 2, "title": "×10⁻¹⁶", "titleFontWeight": "normal", "titleFontSize": 40, "titleAnchor": "start", "titleAlign": "left", "titleBaseline": "alphabetic", "titleX": 6, "titleY": -8}},
       "y": {"field": "e", "type": "quantitative", "axis": {"orient": "right", "values": [-8,-6,-4,-2,0,2,4,6,8], "labels": false, "tickSize": -18, "tickWidth": 2, "domainWidth": 2, "title": null}},
       "y2": {"datum": 0}
      }}
    ],
    "resolve": {"axis": {"x": "independent", "y": "independent"}}
   }
  ]
 },
 {
  "spacing": 0,
  "hconcat": [
   {"width": 346, "height": 10, "data": {"name": "spacer"}, "mark": {"type": "point", "opacity": 0}, "encoding": {}, "view": {"stroke": "transparent"}},
   {
    "width": 2624, "height": 1286,
    "title": {"text": "(c) ITD", "orient": "bottom", "anchor": "middle", "frame": "group", "dx": -57, "fontSize": 88, "offset": 22},
    "layer": [
     {"data": {"name": "c_line"}, "mark": {"type": "line", "color": "#0072BD", "strokeWidth": 2.5},
      "encoding": {
       "x": {"field": "s", "type": "quantitative", "scale": {"domain": [0, 4096], "nice": false, "zero": false},
             "axis": {"orient": "bottom", "values": [0,500,1000,1500,2000,2500,3000,3500,4000], "format": "d", "tickSize": -27, "tickWidth": 2.5, "domainWidth": 2.5, "labelPadding": 61, "labelFontSize": 58, "title": "Sample Points", "titleFontSize": 65, "titlePadding": 12}},
       "y": {"field": "e", "type": "quantitative", "scale": {"domain": [0.015, 0.05], "nice": false, "zero": false},
             "axis": {"orient": "left", "values": [0.015,0.02,0.025,0.03,0.035,0.04,0.045,0.05], "labelExpr": "'' + datum.value", "tickSize": -27, "tickWidth": 2.5, "domainWidth": 2.5, "labelPadding": 46, "labelFontSize": 58, "title": "Error", "titleFontSize": 65, "titlePadding": 22}}
      }},
     {"data": {"name": "c_line"}, "mark": {"type": "line", "color": "#0072BD", "strokeWidth": 2.5, "opacity": 0},
      "encoding": {
       "x": {"field": "s", "type": "quantitative", "axis": {"orient": "top", "values": [0,500,1000,1500,2000,2500,3000,3500,4000], "labels": false, "tickSize": -27, "tickWidth": 2.5, "domainWidth": 2.5, "title": null}},
       "y": {"field": "e", "type": "quantitative", "axis": {"orient": "right", "values": [0.015,0.02,0.025,0.03,0.035,0.04,0.045,0.05], "labels": false, "tickSize": -27, "tickWidth": 2.5, "domainWidth": 2.5, "title": null}}
      }}
    ],
    "resolve": {"axis": {"x": "independent", "y": "independent"}}
   }
  ]
 }
]
}
